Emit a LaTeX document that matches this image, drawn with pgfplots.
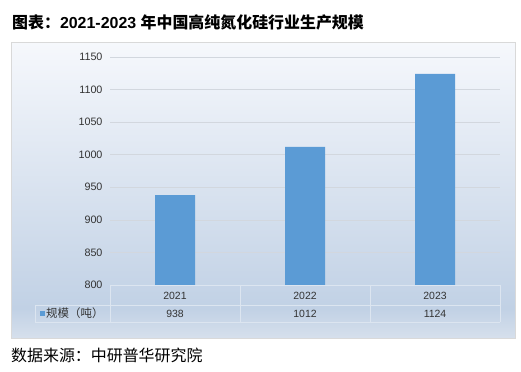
\documentclass[border=0pt]{standalone}
\usepackage{pgfplots}
\pgfplotsset{compat=1.18}
\usepackage{fontspec}
\setmainfont{Liberation Sans}
\newfontfamily\cjk{Noto Sans CJK SC}
\definecolor{barblue}{HTML}{5B9BD5}
\definecolor{paneltop}{HTML}{F6F8FC}
\definecolor{panelmid}{HTML}{C1D1E5}
\definecolor{panelbot}{HTML}{D6E0EC}
\definecolor{tabline}{HTML}{DCE5F0}
\definecolor{gridc}{HTML}{D2D7DE}
\definecolor{txt}{HTML}{333333}
\pgfdeclareverticalshading{panel}{100bp}{color(0bp)=(panelbot); color(25bp)=(panelbot); color(30bp)=(panelmid); color(75bp)=(paneltop); color(100bp)=(paneltop)}
\begin{document}
\begin{tikzpicture}
\useasboundingbox (0,0) rectangle (521bp,-372bp);
\fill[white] (0,0) rectangle (521bp,-372bp);
% title
\node[anchor=west, inner sep=0pt, font=\bfseries\fontsize{16}{17}\selectfont] at (12bp,-22bp) {{\cjk\bfseries 图表：}2021-2023 {\cjk\bfseries 年中国高纯氮化硅行业生产规模}};
% panel
\shade[shading=panel, draw=none] (11bp,-42bp) rectangle (515bp,-338bp);
\draw[draw=gray!30, line width=0.6pt] (11bp,-42bp) rectangle (515bp,-338bp);
\begin{axis}[
  at={(110bp,-285bp)}, anchor=south west,
  width=390bp, height=228bp, scale only axis,
  xmin=-0.5, xmax=2.5, ymin=800, ymax=1150,
  ytick={800,850,...,1150},
  xtick=\empty,
  axis line style={draw=none},
  major tick length=0pt,
  ymajorgrids, grid style={draw=gridc, line width=0.6pt},
  yticklabel style={font=\fontsize{10.8}{12}\selectfont, text=txt, xshift=-4bp},
  /pgf/number format/assume math mode=true,
  /pgf/number format/1000 sep={},
  ybar, bar width=40bp,
]
\addplot[fill=barblue, draw=none] coordinates {(0,938) (1,1012) (2,1124)};
\end{axis}
% data table
\begin{scope}[draw=tabline, line width=0.7pt]
\draw (110bp,-285bp) -- (500bp,-285bp);
\draw (35bp,-305bp) -- (500bp,-305bp);
\draw (35bp,-322bp) -- (500bp,-322bp);
\foreach \x in {110,240,370,500} \draw (\x bp,-285bp) -- (\x bp,-322bp);
\draw (35bp,-305bp) -- (35bp,-322bp);
\end{scope}
\begin{scope}[font=\fontsize{10.5}{12}\selectfont, text=txt]
\node at (175bp,-295.5bp) {2021};
\node at (305bp,-295.5bp) {2022};
\node at (435bp,-295.5bp) {2023};
\node at (175bp,-313.5bp) {938};
\node at (305bp,-313.5bp) {1012};
\node at (435bp,-313.5bp) {1124};
\end{scope}
\fill[barblue] (40bp,-311bp) rectangle (45bp,-316bp);
\node[anchor=west, inner sep=0pt, text=txt, font=\cjk\fontsize{11.5}{12}\selectfont] at (46bp,-313.5bp) {规模（吨）};
% source
\node[anchor=west, inner sep=0pt, font=\cjk\fontsize{16}{17}\selectfont] at (11bp,-355bp) {数据来源：中研普华研究院};
\end{tikzpicture}
\end{document}
